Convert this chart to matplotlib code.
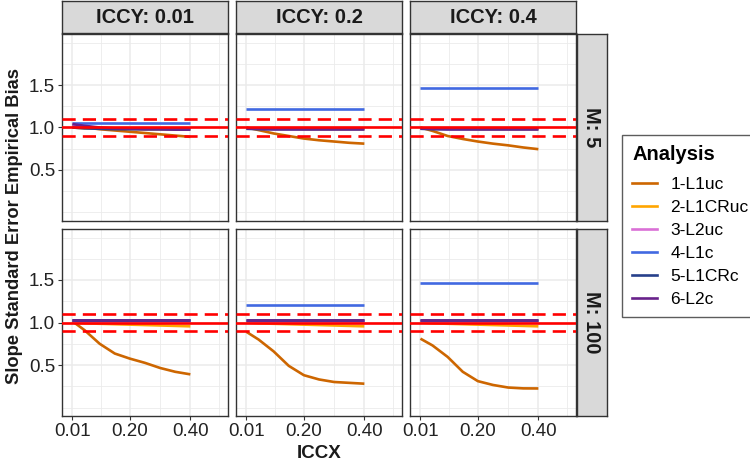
import numpy as np
import matplotlib
matplotlib.use('Agg')
import matplotlib.pyplot as plt
from matplotlib.lines import Line2D

plt.rcParams['font.family'] = ['Liberation Sans', 'DejaVu Sans']

# facets
iccy_levels = ['0.01', '0.2', '0.4']
m_levels = ['5', '100']
iccx = [0.01, 0.05, 0.10, 0.15, 0.20, 0.25, 0.30, 0.35, 0.40]

analysis = ['1-L1uc', '2-L1CRuc', '3-L2uc', '4-L1c', '5-L1CRc', '6-L2c']
colors = ['#CD6600', '#FFA500', '#DA70D6', '#4169E1', '#27408B', '#68228B']

# series values, one list per ICCY level (M = 5)
l1uc_m5 = [[1.03, 1.00, 0.98, 0.965, 0.95, 0.935, 0.92, 0.905, 0.89],
           [1.00, 0.97, 0.93, 0.90, 0.87, 0.85, 0.835, 0.82, 0.81],
           [1.00, 0.96, 0.90, 0.865, 0.835, 0.81, 0.79, 0.765, 0.745]]
l1cruc_m5 = [[1.00, 0.99, 0.99, 0.985, 0.985, 0.98, 0.98, 0.98, 0.98],
             [0.99, 0.99, 0.985, 0.985, 0.98, 0.98, 0.98, 0.98, 0.98],
             [0.99, 0.99, 0.985, 0.985, 0.98, 0.98, 0.98, 0.98, 0.98]]
l2uc_m5 = [[1.02, 1.00, 0.99, 0.99, 0.99, 0.99, 0.985, 0.985, 0.985],
           [0.99, 0.985, 0.98, 0.98, 0.98, 0.98, 0.98, 0.98, 0.98],
           [0.99, 0.985, 0.98, 0.98, 0.98, 0.98, 0.98, 0.98, 0.98]]
l1c_m5 = [[1.05] * 9, [1.22] * 9, [1.46] * 9]
l1crc_m5 = [[1.00, 0.99, 0.985, 0.98, 0.98, 0.98, 0.98, 0.98, 0.98],
            [0.985, 0.98, 0.98, 0.98, 0.98, 0.98, 0.98, 0.98, 0.98],
            [0.985, 0.98, 0.98, 0.98, 0.98, 0.98, 0.98, 0.98, 0.98]]
l2c_m5 = [[1.04, 1.02, 1.00, 0.99, 0.985, 0.98, 0.98, 0.975, 0.975],
          [0.99, 0.985, 0.98, 0.98, 0.98, 0.98, 0.98, 0.98, 0.98],
          [0.99, 0.985, 0.98, 0.98, 0.98, 0.98, 0.98, 0.98, 0.98]]

# M = 100
l1uc_m100 = [[1.015, 0.91, 0.75, 0.635, 0.575, 0.525, 0.465, 0.42, 0.39],
             [0.89, 0.80, 0.66, 0.49, 0.38, 0.33, 0.30, 0.29, 0.28],
             [0.81, 0.73, 0.595, 0.42, 0.31, 0.265, 0.235, 0.225, 0.224]]
l1cruc_m100 = [[1.00, 0.99, 0.985, 0.98, 0.975, 0.97, 0.965, 0.96, 0.955],
               [1.00, 0.99, 0.985, 0.98, 0.975, 0.97, 0.965, 0.96, 0.955],
               [1.00, 0.99, 0.985, 0.98, 0.975, 0.97, 0.965, 0.96, 0.955]]
l2uc_m100 = [[1.02] * 9, [1.02] * 9, [1.02] * 9]
l1c_m100 = [[1.03] * 9, [1.21] * 9, [1.47] * 9]
l1crc_m100 = [[1.03] * 9, [1.03] * 9, [1.03] * 9]
l2c_m100 = [[1.03] * 9, [1.03] * 9, [1.03] * 9]

series = {'5': [l1uc_m5, l1cruc_m5, l2uc_m5, l1c_m5, l1crc_m5, l2c_m5],
          '100': [l1uc_m100, l1cruc_m100, l2uc_m100, l1c_m100, l1crc_m100, l2c_m100]}

ref_solid = 1.0
ref_dashed = [0.9, 1.1]

W, H = 750, 462
fig = plt.figure(figsize=(W / 100, H / 100), dpi=100)

def box(x0, y0, x1, y1):
    # pixel box (top-left origin) -> figure fraction
    return [x0 / W, 1 - y1 / H, (x1 - x0) / W, (y1 - y0) / H]

col_x = [(62, 228), (236, 402), (410, 576)]
row_y = [(34, 221), (229, 416)]
grid_c = '#EBEBEB'
border_c = '#333333'
text_c = '#222222'
lw = 1.9

for r, m in enumerate(m_levels):
    for c, iccy in enumerate(iccy_levels):
        ax = fig.add_axes(box(col_x[c][0], row_y[r][0], col_x[c][1], row_y[r][1]))
        ax.set_xlim(-0.0245, 0.5245)
        ax.set_ylim(-0.1, 2.1)
        for v in [0.105, 0.30, 0.495]:
            ax.axvline(v, color=grid_c, lw=0.6, zorder=0)
        for v in [0.01, 0.20, 0.40]:
            ax.axvline(v, color=grid_c, lw=1.1, zorder=0)
        for v in [0.0, 0.25, 0.75, 1.25, 1.75, 2.0]:
            ax.axhline(v, color=grid_c, lw=0.6, zorder=0)
        for v in [0.5, 1.0, 1.5]:
            ax.axhline(v, color=grid_c, lw=1.1, zorder=0)

        for k in range(len(analysis)):
            ax.plot(iccx, series[m][k][c], color=colors[k], lw=lw,
                    solid_capstyle='butt', solid_joinstyle='round', zorder=2)

        ax.axhline(ref_solid, color='red', lw=lw, zorder=3)
        for v in ref_dashed:
            ax.axhline(v, color='red', lw=lw, dashes=(5, 2.7), zorder=3)

        for s in ax.spines.values():
            s.set_color(border_c)
            s.set_linewidth(1.0)
        ax.set_yticks([0.5, 1.0, 1.5])
        ax.set_xticks([0.01, 0.20, 0.40])
        ax.tick_params(length=3, width=0.8, color=border_c, labelsize=13.5,
                       labelcolor=text_c, pad=2)
        if c == 0:
            ax.set_yticklabels(['0.5', '1.0', '1.5'])
        else:
            ax.tick_params(axis='y', length=0, labelleft=False)
        if r == 1:
            ax.set_xticklabels(['0.01', '0.20', '0.40'])
        else:
            ax.tick_params(axis='x', length=0, labelbottom=False)

        # top strips
        if r == 0:
            sx = fig.add_axes(box(col_x[c][0], 1, col_x[c][1], 33))
            sx.set_facecolor('#D9D9D9')
            sx.set_xticks([]); sx.set_yticks([])
            for s in sx.spines.values():
                s.set_color(border_c); s.set_linewidth(1.0)
            sx.text(0.5, 0.47, 'ICCY: ' + iccy, ha='center', va='center',
                    fontsize=14.5, fontweight='bold', color='#1A1A1A',
                    transform=sx.transAxes)
        # right strips
        if c == 2:
            sy = fig.add_axes(box(577, row_y[r][0], 607, row_y[r][1]))
            sy.set_facecolor('#D9D9D9')
            sy.set_xticks([]); sy.set_yticks([])
            for s in sy.spines.values():
                s.set_color(border_c); s.set_linewidth(1.0)
            sy.text(0.5, 0.5, 'M: ' + m, ha='center', va='center', rotation=-90,
                    fontsize=14.5, fontweight='bold', color='#1A1A1A',
                    transform=sy.transAxes)

fig.text(319 / W, 1 - 453 / H, 'ICCX', ha='center', va='center',
         fontsize=13.5, fontweight='bold', color='#1A1A1A')
fig.text(15 / W, 1 - 226 / H, 'Slope Standard Error Empirical Bias', ha='center',
         va='center', rotation=90, fontsize=13.2, fontweight='bold', color='#1A1A1A')

# legend
handles = [Line2D([], [], color=col, lw=lw) for col in colors]
leg = fig.legend(handles, analysis, title='Analysis', loc='upper left',
                 bbox_to_anchor=(622 / W, 1 - 135 / H), frameon=True,
                 fontsize=12.5, title_fontproperties={'weight': 'bold', 'size': 14.5},
                 handlelength=1.4, handletextpad=0.8, labelspacing=0.45,
                 borderpad=0.6, borderaxespad=0, fancybox=False, alignment='left')
leg.get_frame().set_edgecolor('#333333')
leg.get_frame().set_linewidth(1.0)
leg._legend_box.sep = 9

fig.savefig('out.png', dpi=100)
